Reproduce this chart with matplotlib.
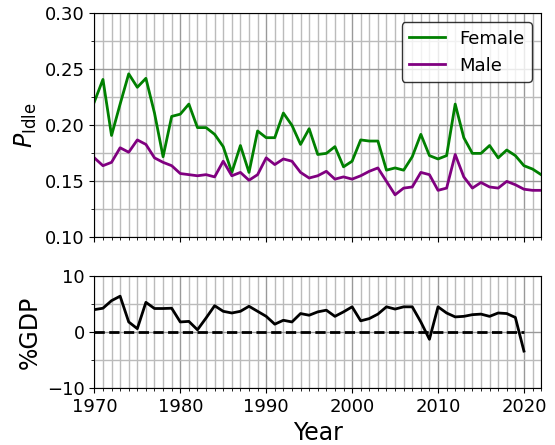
import numpy as np
import matplotlib
matplotlib.use('Agg')
import matplotlib.pyplot as plt
from matplotlib.ticker import MultipleLocator

years = np.arange(1970, 2023)
female = [0.221, 0.241, 0.191, 0.219, 0.246, 0.234, 0.242, 0.211, 0.172, 0.208,
          0.210, 0.219, 0.198, 0.198, 0.192, 0.181, 0.158, 0.182, 0.158, 0.195,
          0.189, 0.189, 0.211, 0.200, 0.183, 0.197, 0.174, 0.175, 0.181, 0.163,
          0.168, 0.187, 0.186, 0.186, 0.160, 0.162, 0.160, 0.172, 0.192, 0.173,
          0.170, 0.173, 0.219, 0.189, 0.175, 0.175, 0.182, 0.171, 0.178, 0.173,
          0.164, 0.161, 0.156]
male = [0.171, 0.164, 0.167, 0.180, 0.176, 0.187, 0.183, 0.171, 0.167, 0.164,
        0.157, 0.156, 0.155, 0.156, 0.154, 0.168, 0.155, 0.158, 0.151, 0.156,
        0.171, 0.165, 0.170, 0.168, 0.158, 0.153, 0.155, 0.159, 0.152, 0.154,
        0.152, 0.155, 0.159, 0.162, 0.150, 0.138, 0.144, 0.145, 0.158, 0.156,
        0.142, 0.144, 0.174, 0.154, 0.144, 0.149, 0.145, 0.144, 0.150, 0.147,
        0.143, 0.142, 0.142]

gdp_years = np.arange(1970, 2021)
gdp = [4.0, 4.25, 5.6, 6.4, 1.8, 0.6, 5.3, 4.2, 4.2, 4.25,
       1.8, 1.9, 0.4, 2.5, 4.7, 3.7, 3.4, 3.7, 4.6, 3.7,
       2.8, 1.4, 2.1, 1.8, 3.3, 3.0, 3.6, 3.9, 2.8, 3.6,
       4.5, 2.0, 2.4, 3.2, 4.5, 4.1, 4.5, 4.5, 1.8, -1.3,
       4.5, 3.4, 2.7, 2.8, 3.1, 3.2, 2.8, 3.4, 3.3, 2.6,
       -3.4]

fig, (ax1, ax2) = plt.subplots(2, 1, figsize=(5.55, 4.45), dpi=100,
                               gridspec_kw={'height_ratios': [2, 1]})
fig.subplots_adjust(left=0.17, right=0.975, top=0.97, bottom=0.128, hspace=0.23)

ax1.plot(years, female, color='green', lw=2, label='Female')
ax1.plot(years, male, color='purple', lw=2, label='Male')
ax1.set_ylim(0.10, 0.30)
ax1.set_ylabel(r'$P_{\rm Idle}$', fontsize=17)
ax1.legend(fontsize=13, loc='upper right', edgecolor='black')

ax2.plot(gdp_years, gdp, color='black', lw=2)
ax2.plot(gdp_years, np.zeros(len(gdp_years)), 'k--', lw=2)
ax2.set_ylim(-10, 10)
ax2.set_ylabel('%GDP', fontsize=17)
ax2.set_xlabel('Year', fontsize=17)

for ax in (ax1, ax2):
    ax.set_xlim(1970, 2022)
    ax.xaxis.set_major_locator(MultipleLocator(10))
    ax.xaxis.set_minor_locator(MultipleLocator(1))
    ax.grid(which='major', color='#999999', lw=1)
    ax.grid(which='minor', color='#bbbbbb', lw=1)
    ax.tick_params(labelsize=13)
ax1.yaxis.set_major_locator(MultipleLocator(0.05))
ax1.yaxis.set_minor_locator(MultipleLocator(0.025))
ax2.yaxis.set_major_locator(MultipleLocator(10))
ax2.yaxis.set_minor_locator(MultipleLocator(5))
ax1.tick_params(labelbottom=False)

plt.savefig('out.png', dpi=100)
